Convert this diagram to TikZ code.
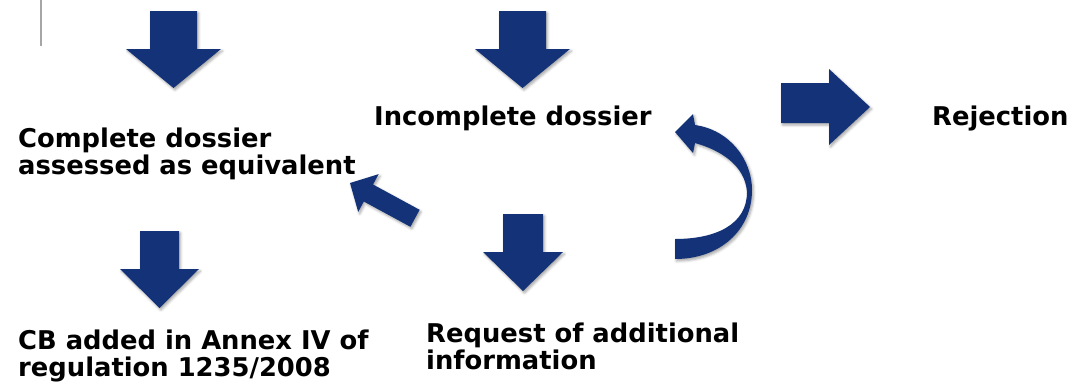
\documentclass[tikz,border=0pt]{standalone}
\usepackage{fontspec}
\setmainfont{DejaVu Sans}
\usetikzlibrary{shadows.blur}
\definecolor{navy}{RGB}{19,50,120}
\begin{document}
\begin{tikzpicture}[x=1pt,y=-1pt,
  blockarrow/.style={fill=navy, draw=none, blur shadow={shadow xshift=1.5pt, shadow yshift=-2pt, shadow blur radius=2.5pt, shadow opacity=35}},
  lbl/.style={font=\fontsize{25.8}{27}\selectfont\bfseries, inner sep=0pt, anchor=base west, align=left}]
\useasboundingbox (0,0) rectangle (1078,383);
% thin gray line
\draw[line width=2pt, black!35] (41,0) -- (41,46);
% down arrows
\path[blockarrow] (150,11) -- (197,11) -- (197,49) -- (221,49) -- (173.5,88) -- (126,49) -- (150,49) -- cycle;
\path[blockarrow] (499,11) -- (546,11) -- (546,49) -- (570,49) -- (522.5,88) -- (475,49) -- (499,49) -- cycle;
\path[blockarrow] (140,231) -- (179,231) -- (179,269) -- (199,269) -- (159.5,308) -- (120,269) -- (140,269) -- cycle;
\path[blockarrow] (503,214) -- (543,214) -- (543,252) -- (563,252) -- (523,291) -- (483,252) -- (503,252) -- cycle;
% right arrow
\path[blockarrow] (781,83) -- (829,83) -- (829,69) -- (870,107) -- (829,145) -- (829,123) -- (781,123) -- cycle;
% diagonal arrow
\path[blockarrow] (350,183) -- (378.7,174.1) -- (373.0,184.5) -- (419.6,209.8) -- (410.4,226.8) -- (363.8,201.5) -- (358.2,211.9) -- cycle;
% curved arrow
\path[blockarrow] (675,259) .. controls (720,259) and (752,230) .. (752,190)
  .. controls (752,160) and (730,130) .. (695,125) -- (693,114) -- (675,132) -- (693,153) -- (695,143)
  .. controls (720,150) and (745,165) .. (747,192)
  .. controls (747,225) and (715,239) .. (675,239) -- cycle;
% labels (anchor at the baseline of the last line)
\node[lbl] (complete) at (18,174) {Complete dossier\\assessed as equivalent};
\node[lbl] (incomplete) at (374,125) {Incomplete dossier};
\node[lbl] (rejection) at (932,125) {Rejection};
\node[lbl] (cb) at (18,376) {CB added in Annex IV of\\regulation 1235/2008};
\node[lbl] (request) at (426,369) {Request of additional\\information};
\end{tikzpicture}
\end{document}
